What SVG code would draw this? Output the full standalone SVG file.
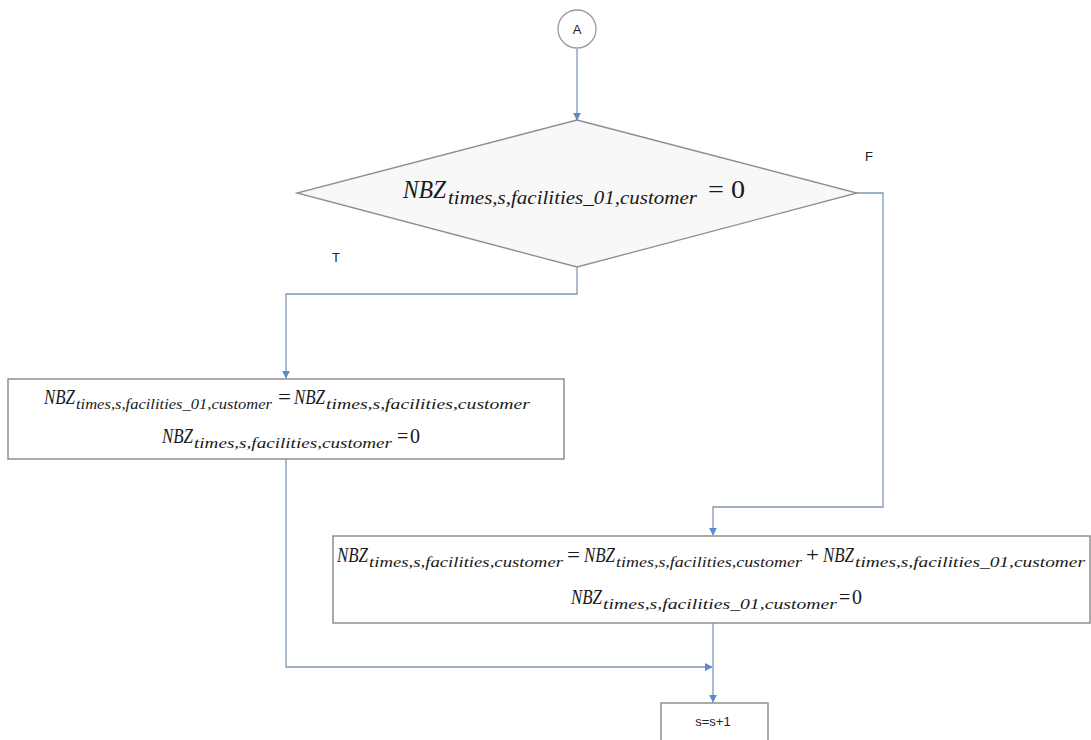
<svg xmlns="http://www.w3.org/2000/svg" width="1091" height="740" viewBox="0 0 1091 740">
  <defs>
    <marker id="arrow" viewBox="0 0 10 10" refX="9" refY="5" markerWidth="8" markerHeight="8" markerUnits="userSpaceOnUse" orient="auto">
      <path d="M0,0 L10,5 L0,10 z" fill="#5b8ccc"/>
    </marker>
    <style>
      .shape { fill: #ffffff; stroke: #8e8e8e; stroke-width: 1.5; }
      .decision { fill: #f8f8f8; stroke: #8e8e8e; stroke-width: 1.3; }
      .conn { fill: none; stroke: #8298b2; stroke-width: 1.3; marker-end: url(#arrow); }
      .m { font-family: "Liberation Serif", "DejaVu Serif", serif; font-style: italic; fill: #1a1a1a; }
      .op { font-family: "Liberation Serif", "DejaVu Serif", serif; fill: #1a1a1a; }
      .lbl { font-family: "Liberation Sans", Arial, sans-serif; font-size: 13px; fill: #222; }
    </style>
  </defs>

  <rect width="1091" height="740" fill="#ffffff"/>

  <!-- connectors -->
  <g id="connectors">
    <path class="conn" d="M577,49 L577,120"/>
    <path class="conn" d="M577,267 L577,294 L286,294 L286,378"/>
    <path class="conn" d="M857,193 L883,193 L883,507 L713,507 L713,535"/>
    <path class="conn" d="M286,459 L286,667 L712,667"/>
    <path class="conn" d="M713,623 L713,702"/>
  </g>

  <!-- start connector A -->
  <g id="node-a">
    <circle cx="577" cy="29" r="19" fill="#ffffff" stroke="#9a9a9a" stroke-width="1.3"/>
    <text class="lbl" x="577" y="34" text-anchor="middle" font-size="12">A</text>
  </g>

  <!-- decision -->
  <g id="node-decision">
    <polygon class="decision" points="577,120 857,193 577,267 297,193"/>
    <text class="m" x="403" y="198" font-size="25" textLength="43" lengthAdjust="spacingAndGlyphs">NBZ</text>
    <text class="m" x="448" y="204" font-size="18" textLength="249" lengthAdjust="spacingAndGlyphs">times,s,facilities_01,customer</text>
    <text class="op" x="708" y="198" font-size="25" textLength="37" lengthAdjust="spacingAndGlyphs">= 0</text>
  </g>

  <!-- branch labels -->
  <g id="labels">
    <text class="lbl" x="332" y="262" font-size="12">T</text>
    <text class="lbl" x="865" y="161" font-size="12">F</text>
  </g>

  <!-- true branch: move and reset -->
  <g id="node-true">
    <rect class="shape" x="8" y="379" width="556" height="80"/>
    <text class="m" x="44" y="404" font-size="20" textLength="31" lengthAdjust="spacingAndGlyphs">NBZ</text>
    <text class="m" x="76" y="409" font-size="15" textLength="196" lengthAdjust="spacingAndGlyphs">times,s,facilities_01,customer</text>
    <text class="op" x="278" y="404" font-size="20" textLength="13" lengthAdjust="spacingAndGlyphs">=</text>
    <text class="m" x="294" y="404" font-size="20" textLength="31" lengthAdjust="spacingAndGlyphs">NBZ</text>
    <text class="m" x="326" y="409" font-size="15" textLength="204" lengthAdjust="spacingAndGlyphs">times,s,facilities,customer</text>
    <text class="m" x="162" y="443" font-size="20" textLength="31" lengthAdjust="spacingAndGlyphs">NBZ</text>
    <text class="m" x="194" y="448" font-size="15" textLength="198" lengthAdjust="spacingAndGlyphs">times,s,facilities,customer</text>
    <text class="op" x="397" y="443" font-size="20">=</text>
    <text class="op" x="410" y="443" font-size="20">0</text>
  </g>

  <!-- false branch: accumulate and reset -->
  <g id="node-false">
    <rect class="shape" x="333" y="536" width="757" height="87"/>
    <text class="m" x="337" y="562" font-size="20" textLength="31" lengthAdjust="spacingAndGlyphs">NBZ</text>
    <text class="m" x="369" y="567" font-size="15" textLength="194" lengthAdjust="spacingAndGlyphs">times,s,facilities,customer</text>
    <text class="op" x="567" y="562" font-size="20" textLength="13" lengthAdjust="spacingAndGlyphs">=</text>
    <text class="m" x="584" y="562" font-size="20" textLength="31" lengthAdjust="spacingAndGlyphs">NBZ</text>
    <text class="m" x="616" y="567" font-size="15" textLength="186" lengthAdjust="spacingAndGlyphs">times,s,facilities,customer</text>
    <text class="op" x="806" y="562" font-size="20" textLength="13" lengthAdjust="spacingAndGlyphs">+</text>
    <text class="m" x="823" y="562" font-size="20" textLength="31" lengthAdjust="spacingAndGlyphs">NBZ</text>
    <text class="m" x="855" y="567" font-size="15" textLength="230" lengthAdjust="spacingAndGlyphs">times,s,facilities_01,customer</text>
    <text class="m" x="571" y="604" font-size="20" textLength="31" lengthAdjust="spacingAndGlyphs">NBZ</text>
    <text class="m" x="603" y="609" font-size="15" textLength="234" lengthAdjust="spacingAndGlyphs">times,s,facilities_01,customer</text>
    <text class="op" x="839" y="604" font-size="20">=</text>
    <text class="op" x="852" y="604" font-size="20">0</text>
  </g>

  <!-- increment -->
  <g id="node-increment">
    <rect class="shape" x="661" y="703" width="107" height="40"/>
    <text class="lbl" x="713" y="726" text-anchor="middle" font-size="14">s=s+1</text>
  </g>
</svg>
